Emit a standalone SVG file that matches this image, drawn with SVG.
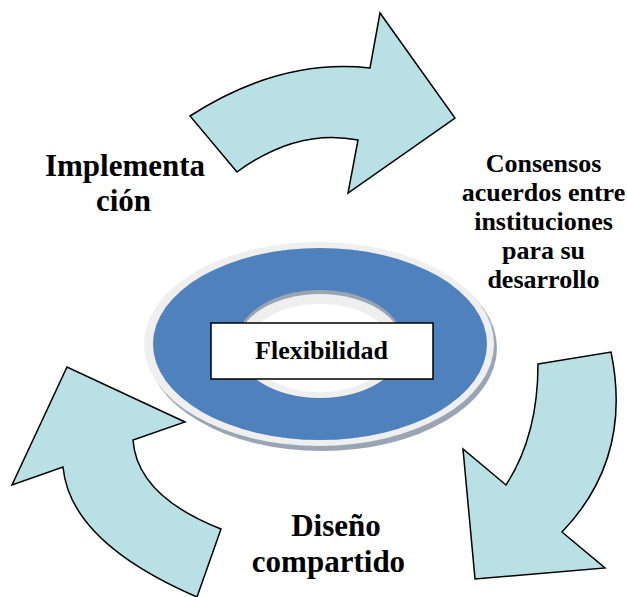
<svg xmlns="http://www.w3.org/2000/svg" width="627" height="597" viewBox="0 0 627 597">
<style>
.arrow{fill:#b9e0e4;stroke:#000;stroke-width:1.5;stroke-linejoin:miter}
.lbl{font-family:"Liberation Serif","Times New Roman",serif;font-weight:bold;fill:#000;text-anchor:middle}
</style>
<rect width="627" height="597" fill="#fff"/>
<g id="connectors">
<path id="arrow-top" class="arrow" d="M190,116 Q280,58 370,68 L380,13 L455,118 L348,193 L358,140 Q297,128 237,172 Z"/>
<path id="arrow-right" class="arrow" d="M538,364 L611,352 Q633,458 562,532 L605,568 L475,579 L463,449 L506,485 Q538,436 538,364 Z"/>
<path id="arrow-left" class="arrow" d="M221,529 L197,597 Q70,542 63,467 L12,485 L67,367 L185,422 L133,440 Q137,496 221,529 Z"/>
</g>
<g id="ring">
<ellipse cx="322" cy="348" rx="175" ry="103" fill="#9aa5b3"/>
<ellipse cx="319" cy="344" rx="175" ry="102" fill="#efefef"/>
<ellipse cx="320" cy="344" rx="167" ry="96" fill="#4f81bd"/>
<ellipse cx="320" cy="344" rx="84" ry="54" fill="#9aa5b3"/>
<ellipse cx="320" cy="346" rx="83" ry="52" fill="#efefef"/>
<ellipse cx="320" cy="348" rx="73" ry="44" fill="#fff"/>
</g>
<g id="center">
<rect x="211" y="323" width="222" height="56" fill="#fff" stroke="#000" stroke-width="1.5"/>
<text class="lbl" x="321.5" y="359" font-size="26">Flexibilidad</text>
</g>
<g id="implementacion">
<text class="lbl" x="125" y="176" font-size="31">Implementa</text>
<text class="lbl" x="123.5" y="211" font-size="31">ción</text>
</g>
<g id="consensos">
<text class="lbl" x="543.5" y="172" font-size="26">Consensos</text>
<text class="lbl" x="543.5" y="201" font-size="26">acuerdos entre</text>
<text class="lbl" x="543.5" y="230" font-size="26">instituciones</text>
<text class="lbl" x="543.5" y="259" font-size="26">para su</text>
<text class="lbl" x="543.5" y="288" font-size="26">desarrollo</text>
</g>
<g id="diseno">
<text class="lbl" x="336" y="536" font-size="31">Diseño</text>
<text class="lbl" x="328.5" y="572" font-size="31">compartido</text>
</g>
</svg>
